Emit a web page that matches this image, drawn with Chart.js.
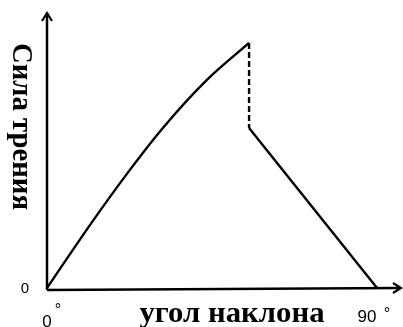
<!DOCTYPE html>
<html>
<head>
<meta charset="utf-8">
<script src="https://cdn.jsdelivr.net/npm/chart.js@4/dist/chart.umd.min.js"></script>
<style>
html,body{margin:0;padding:0;background:#fff;}
#wrap{width:403px;height:327px;position:relative;}
</style>
</head>
<body>
<div id="wrap"><canvas id="c" width="403" height="327"></canvas></div>
<script>
// Static friction rising with angle (solid), jump down (dashed), sliding friction falling to 0 at 90°
const riseAngles = [0, 11.7, 22.6, 31.6, 43.6, 55.1];
const riseForce  = [0, 22.8, 42.8, 58, 75.4, 88.8];
const jumpAngles = [55.1, 55.1];
const jumpForce  = [88.8, 58];
const slideAngles = [55.1, 90];
const slideForce  = [58, 0];
const xTickValues = [0, 90];
const xTickLabels = ['0', '90'];
const yTickValues = [0];
const yTickLabels = ['0'];
const xTitle = 'угол наклона';
const yTitle = 'Сила трения';

const pts = (xs, ys) => xs.map((x, i) => ({x: x, y: ys[i]}));

function fitText(ctx, text, cx, cy, width) {
  const w = ctx.measureText(text).width;
  ctx.save();
  ctx.translate(cx, cy);
  ctx.scale(width / w, 1);
  ctx.fillText(text, 0, 0);
  ctx.restore();
}

const axesPlugin = {
  id: 'axesPlugin',
  beforeDatasetsDraw(chart) {
    const ctx = chart.ctx;
    const xs = chart.scales.x, ys = chart.scales.y;
    const x0 = xs.getPixelForValue(0), y0 = ys.getPixelForValue(0);
    const xEnd = xs.right, yTop = ys.top;
    ctx.save();
    ctx.strokeStyle = '#000';
    ctx.lineWidth = 2.5;
    ctx.lineCap = 'butt';
    ctx.beginPath();
    ctx.moveTo(x0, y0 + 2); ctx.lineTo(xEnd - 1, y0);
    ctx.moveTo(x0, y0 + 2); ctx.lineTo(x0, yTop + 1);
    ctx.stroke();
    ctx.lineWidth = 2.2;
    ctx.lineJoin = 'miter';
    ctx.beginPath();
    ctx.moveTo(xEnd - 9, y0 - 5); ctx.lineTo(xEnd - 1, y0); ctx.lineTo(xEnd - 9, y0 + 5);
    ctx.moveTo(x0 - 5, yTop + 9); ctx.lineTo(x0, yTop + 1); ctx.lineTo(x0 + 5, yTop + 9);
    ctx.stroke();
    ctx.restore();
  },
  afterDraw(chart) {
    const ctx = chart.ctx;
    const xs = chart.scales.x, ys = chart.scales.y;
    ctx.save();
    ctx.fillStyle = '#000';
    // y tick labels
    ctx.font = '15px "Liberation Sans", Arial, sans-serif';
    ctx.textAlign = 'center';
    ctx.textBaseline = 'middle';
    yTickValues.forEach((v, i) => {
      ctx.fillText(yTickLabels[i], xs.getPixelForValue(0) - 22, ys.getPixelForValue(v) + 1);
    });
    // x tick labels with superscript degree
    ctx.textBaseline = 'alphabetic';
    const offs = [{dx: 0, dy: 39, sx: 11, sy: 27}, {dx: -10, dy: 34, sx: 10, sy: 31}];
    xTickValues.forEach((v, i) => {
      const px = xs.getPixelForValue(v);
      const py = ys.getPixelForValue(0);
      ctx.textAlign = 'center';
      ctx.font = '17px "Liberation Sans", Arial, sans-serif';
      ctx.fillText(xTickLabels[i], px + offs[i].dx, py + offs[i].dy);
      ctx.font = '16px "Liberation Sans", Arial, sans-serif';
      ctx.fillText('°', px + offs[i].sx, py + offs[i].sy);
    });
    // titles
    ctx.font = 'bold 29px "Liberation Serif", "Times New Roman", serif';
    ctx.textAlign = 'center';
    ctx.textBaseline = 'alphabetic';
    fitText(ctx, xTitle, 232, 322, 185);
    ctx.translate(13, 126.5);
    ctx.rotate(Math.PI / 2);
    fitText(ctx, yTitle, 0, 0, 167);
    ctx.restore();
  }
};

new Chart(document.getElementById('c'), {
  type: 'scatter',
  data: {
    datasets: [
      {data: pts(riseAngles, riseForce), showLine: true, borderColor: '#000', borderWidth: 2.4, pointRadius: 0, tension: 0.25, cubicInterpolationMode: 'monotone'},
      {data: pts(jumpAngles, jumpForce), showLine: true, borderColor: '#000', borderWidth: 2.4, pointRadius: 0, borderDash: [6, 3]},
      {data: pts(slideAngles, slideForce), showLine: true, borderColor: '#000', borderWidth: 2.4, pointRadius: 0}
    ]
  },
  options: {
    responsive: false,
    animation: false,
    clip: false,
    layout: {padding: {left: 47, right: 1, top: 12, bottom: 39}},
    plugins: {legend: {display: false}, tooltip: {enabled: false}},
    scales: {
      x: {type: 'linear', display: false, min: 0, max: 96.8},
      y: {type: 'linear', display: false, min: 0, max: 100}
    }
  },
  plugins: [axesPlugin]
});
</script>
</body>
</html>
